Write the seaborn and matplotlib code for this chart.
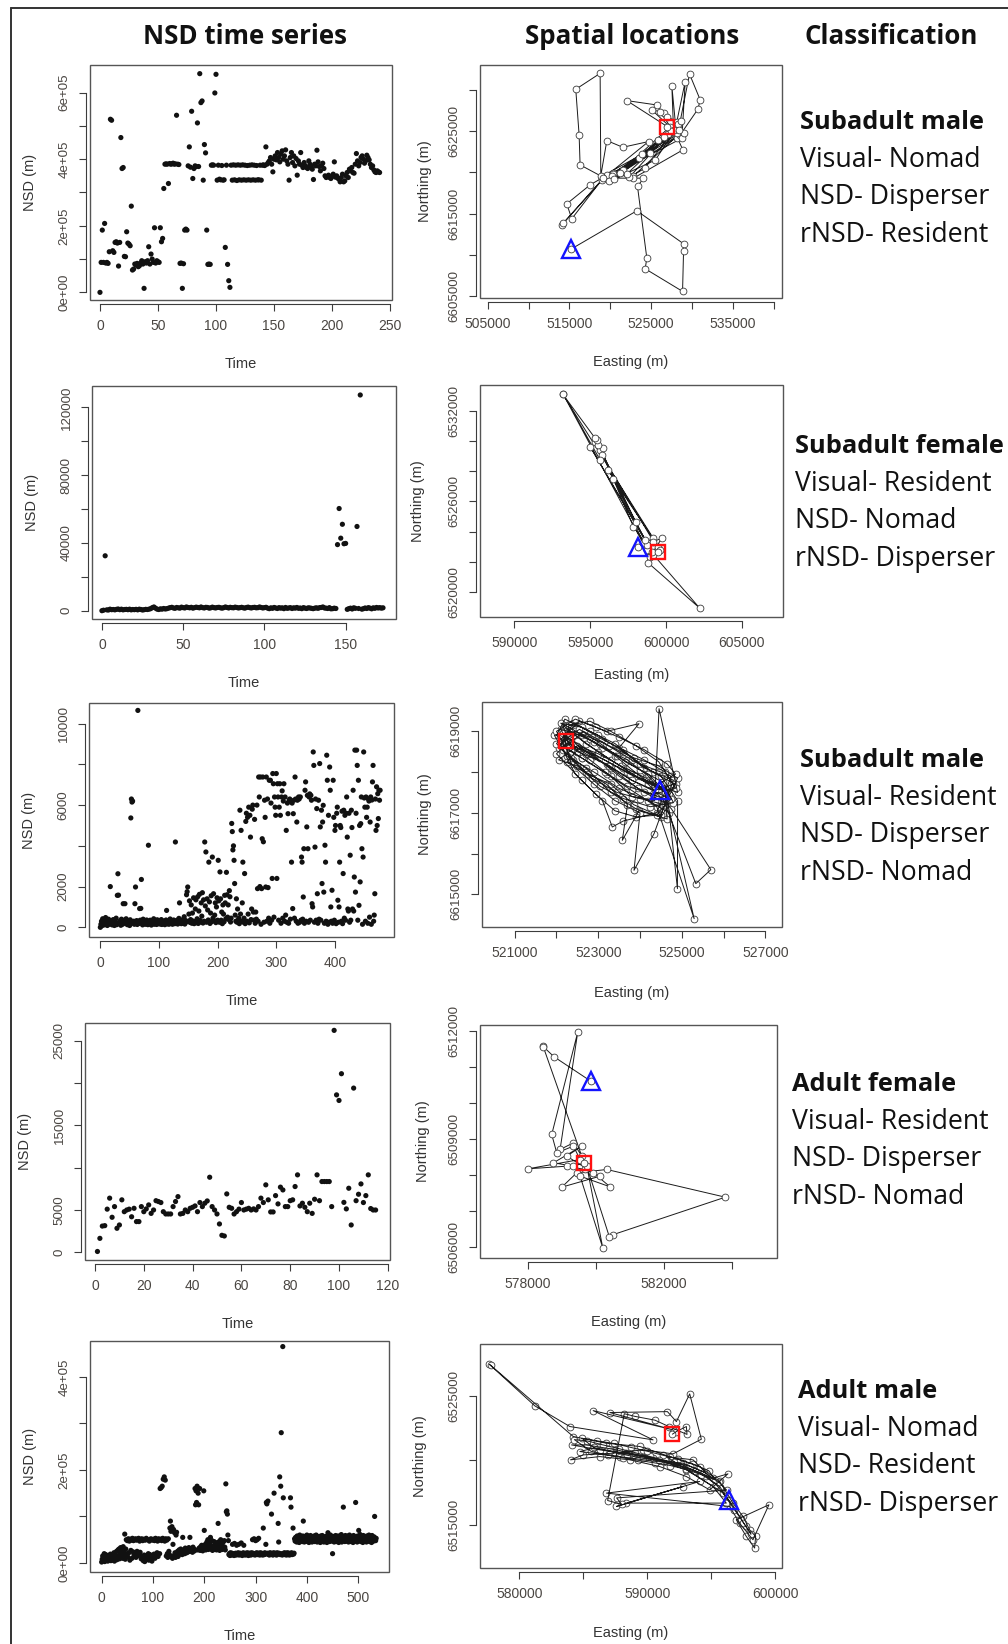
import numpy as np
import pandas as pd
import matplotlib
matplotlib.use("Agg")
import matplotlib.pyplot as plt
import seaborn as sns
from matplotlib.patches import Rectangle
from matplotlib.lines import Line2D

# ---------------------------------------------------------------- data
# NSD time series (one value per time step)
nsd_sub_male1_k = [
    0, 90, 187, 90, 207, 88, 90, 87, 122, 520,
    517, 125, 120, 150, 152, 148, 79, 150, 465, 372,
    375, 108, 107, 182, 148, 145, 140, 259, 67, 70,
    85, 82, 87, 77, 80, 88, 95, 85, 12, 92,
    88, 95, 137, 85, 115, 100, 90, 194, 88, 95,
    92, 90, 194, 152, 162, 312, 385, 386, 385, 327,
    387, 385, 386, 388, 385, 386, 532, 385, 384, 87,
    88, 12, 86, 187, 190, 187, 380, 437, 376, 544,
    342, 372, 380, 378, 509, 378, 657, 570, 575, 337,
    444, 419, 187, 84, 85, 84, 382, 383, 382, 599,
    655, 337, 382, 340, 338, 381, 337, 338, 135, 382,
    84, 35, 15, 382, 337, 383, 338, 382, 336, 383,
    338, 382, 337, 383, 338, 382, 337, 381, 338, 382,
    337, 383, 338, 382, 337, 381, 338, 338, 382, 337,
    382, 383, 381, 437, 385, 390, 395, 405, 385, 362,
    400, 410, 398, 420, 405, 392, 415, 425, 400, 410,
    428, 395, 385, 337, 405, 420, 390, 410, 380, 402,
    352, 395, 385, 420, 382, 375, 390, 380, 375, 372,
    395, 385, 378, 370, 339, 385, 380, 427, 392, 378,
    365, 380, 388, 372, 350, 345, 348, 352, 345, 342,
    348, 355, 392, 346, 350, 343, 340, 332, 345, 355,
    332, 335, 350, 360, 345, 370, 365, 375, 360, 358,
    385, 417, 395, 380, 390, 405, 410, 400, 388, 395,
    412, 405, 398, 385, 375, 380, 368, 362, 360, 365,
    362, 360]

nsd_sub_female = [
    0, 300, 32400, 500, 400, 900, 600, 700, 500, 800,
    1000, 600, 900, 500, 700, 800, 600, 900, 500, 700,
    600, 800, 500, 900, 700, 400, 600, 800, 700, 900,
    1200, 1800, 2200, 1500, 900, 700, 1100, 900, 1300, 1000,
    1200, 1500, 1800, 2000, 1600, 1400, 1900, 1700, 1500, 2100,
    1800, 1600, 2200, 1900, 1700, 2000, 1500, 1800, 2100, 1900,
    1700, 2200, 1800, 1600, 2000, 1900, 1500, 1700, 2100, 1800,
    1600, 1900, 2000, 1700, 1500, 1800, 2200, 1900, 1600, 2000,
    1800, 1700, 2100, 1900, 1600, 1800, 2000, 1700, 1500, 1900,
    2100, 1800, 1600, 1900, 2000, 1700, 1800, 2200, 1900, 1600,
    1800, 2000, 1500, 1200, 1700, 1400, 1900, 1600, 1300, 1800,
    1500, 1700, 1200, 1900, 1400, 1600, 1800, 1300, 1700, 1500,
    1900, 1400, 1600, 1200, 1800, 1500, 1300, 1700, 1600, 1400,
    1200, 1500, 1700, 1400, 1800, 1900, 2200, 1600, 1500, 1300,
    1800, 1100, 1200, 1500, 1300, 39000, 60300, 42800, 51000, 39500,
    39700, 800, 1200, 1500, 1000, 1700, 1400, 49700, 1300, 127300,
    900, 1200, 1600, 1300, 1800, 1500, 1100, 1700, 1400, 1900,
    1600, 1800, 1500, 1700]

nsd_sub_male2 = [
    0, 150, 300, 80, 420, 200, 350, 120, 260, 480, 180, 310, 90, 230, 400, 150, 280, 2000, 200, 330,
    120, 260, 380, 170, 90, 300, 210, 450, 130, 1570, 2630, 1580, 250, 180, 320, 100, 400, 220, 150, 1160,
    280, 350, 1160, 190, 420, 240, 130, 310, 260, 180, 90, 370, 5370, 6300, 6150, 6200, 210, 300, 150, 1160,
    1980, 250, 330, 140, 10650, 280, 190, 920, 350, 930, 2350, 220, 120, 400, 260, 180, 310, 150, 240, 360,
    200, 130, 4030, 280, 170, 350, 230, 110, 300, 190, 260, 420, 150, 330, 210, 280, 140, 370, 250, 180,
    320, 200, 160, 290, 380, 140, 250, 310, 190, 220, 130, 280, 360, 830, 170, 240, 300, 150, 260, 410,
    190, 330, 220, 150, 280, 360, 240, 180, 4190, 300, 210, 350, 160, 270, 440, 1200, 230, 310, 180, 260,
    370, 200, 290, 520, 160, 340, 250, 1600, 1750, 1980, 300, 650, 1300, 240, 380, 1100, 200, 700, 310, 1450,
    180, 280, 900, 1350, 230, 420, 1500, 190, 800, 1620, 340, 260, 1200, 550, 1700, 210, 1350, 300, 4190, 1050,
    3700, 250, 1400, 850, 360, 3200, 1250, 190, 700, 1550, 280, 3450, 450, 1650, 320, 600, 1200, 230, 1000, 1450,
    350, 3290, 1300, 250, 2720, 1400, 350, 750, 180, 1100, 650, 270, 1570, 1200, 420, 2700, 1600, 500, 1100, 380,
    1800, 1500, 260, 450, 5100, 4700, 3800, 4000, 3290, 2150, 600, 300, 1400, 250, 900, 350, 450, 180, 5750, 650,
    4760, 300, 1200, 3200, 250, 450, 2640, 180, 5200, 5600, 300, 5400, 650, 5900, 220, 5500, 4430, 380, 900, 5800,
    6000, 750, 350, 5300, 200, 750, 400, 6000, 1900, 300, 7380, 6400, 2000, 7380, 150, 1900, 4350, 7380, 4200, 250,
    6240, 5400, 1980, 7380, 300, 6300, 1950, 450, 7220, 200, 7220, 6100, 350, 2400, 7550, 7050, 500, 6400, 5900, 5500,
    7550, 2400, 7050, 6400, 350, 5900, 7050, 5500, 200, 6400, 6700, 450, 6200, 7050, 300, 6400, 600, 4760, 250, 6100,
    5580, 200, 6240, 6300, 400, 6200, 3200, 6100, 920, 5580, 6240, 450, 7380, 6300, 300, 5170, 6240, 200, 6400, 6300,
    250, 6400, 350, 3450, 3200, 400, 1490, 3860, 200, 6730, 7140, 300, 4930, 6480, 3860, 250, 6400, 6550, 350, 6480,
    6240, 1160, 1000, 8610, 7950, 250, 3940, 6300, 350, 5830, 1650, 200, 6240, 400, 8040, 4930, 350, 5750, 2150, 5170,
    5990, 1730, 200, 4030, 3200, 300, 8450, 7220, 150, 5500, 250, 7870, 6730, 1000, 300, 1820, 200, 7220, 5400, 350,
    4760, 5000, 180, 5600, 5900, 1330, 250, 1000, 3200, 5000, 4900, 300, 5700, 180, 2640, 5750, 450, 5500, 350, 5600,
    6400, 4430, 900, 800, 5600, 250, 3540, 350, 5750, 4900, 900, 6730, 800, 2470, 8700, 1730, 5600, 8700, 7950, 350,
    7220, 1080, 5000, 2230, 5090, 6400, 3860, 150, 3450, 8610, 6350, 5900, 300, 6400, 5400, 5900, 200, 6300, 6200, 500,
    5170, 6400, 150, 6250, 7140, 7950, 300, 600, 1650, 6300, 4760, 6900, 5000, 6560, 5340, 6730, 6240, 6730]

nsd_adult_female = [
    100, 1650, 3100, 3150, 5100, 6400, 4140, 5400, 2840, 3230,
    6200, 4800, 5000, 5100, 4200, 5200, 3630, 3630, 5400, 4800,
    5130, 5600, 4600, 5000, 6100, 6000, 5880, 4800, 4530, 4530,
    4530, 5400, 6000, 6580, 4530, 4600, 5000, 4800, 5200, 5320,
    5480, 4800, 5880, 5400, 5800, 6070, 8870, 5400, 5000, 4530,
    3350, 2010, 1930, 6900, 5320, 5200, 4530, 4800, 5100, 5880,
    5000, 5100, 5200, 5000, 5130, 5000, 5400, 6400, 5880, 7970,
    6200, 4770, 4770, 6700, 5720, 7700, 7370, 5400, 5400, 6100,
    6200, 7770, 9150, 5480, 5800, 5320, 4800, 5800, 4600, 6270,
    9150, 6100, 8360, 8360, 8360, 8360, 5400, 26220, 18600, 17940,
    21100, 5900, 5130, 7570, 3230, 19400, 6100, 6860, 8080, 5880,
    6700, 9150, 5170, 5000, 5000]

nsd_adult_male_k = [
    2, 8, 15, 5, 12, 20, 3, 10, 18, 6, 14, 9, 4, 16, 11, 7, 13, 19, 5, 10,
    8, 15, 6, 12, 22, 4, 17, 9, 14, 25, 7, 11, 28, 16, 30, 9, 20, 33, 12, 26,
    18, 10, 35, 15, 24, 62, 8, 30, 50, 19, 48, 13, 52, 22, 47, 6, 51, 27, 49, 10,
    53, 24, 48, 18, 50, 21, 52, 12, 49, 25, 51, 16, 53, 20, 47, 23, 50, 9, 52, 14,
    48, 5, 51, 17, 3, 49, 12, 53, 8, 15, 50, 20, 6, 47, 18, 11, 52, 16, 4, 49,
    13, 51, 19, 48, 10, 53, 17, 50, 22, 47, 14, 52, 49, 20, 160, 51, 162, 48, 165, 53,
    180, 50, 185, 47, 178, 52, 15, 49, 20, 12, 52, 25, 18, 75, 90, 68, 14, 78, 10, 40,
    72, 16, 65, 22, 12, 60, 66, 18, 25, 14, 22, 28, 19, 24, 30, 21, 27, 18, 55, 26,
    23, 29, 20, 32, 25, 28, 22, 30, 27, 24, 33, 26, 55, 29, 25, 31, 28, 23, 34, 27,
    30, 26, 160, 125, 155, 130, 165, 28, 150, 125, 32, 160, 27, 35, 29, 38, 31, 26, 36, 155,
    70, 30, 40, 28, 35, 45, 32, 50, 29, 38, 33, 42, 55, 30, 36, 48, 27, 34, 31, 46,
    29, 37, 44, 33, 28, 40, 35, 85, 31, 46, 27, 38, 50, 33, 42, 29, 36, 45, 31, 48,
    34, 28, 170, 110, 112, 105, 60, 48, 18, 20, 16, 22, 19, 17, 21, 40, 18, 20, 16, 42,
    19, 21, 17, 38, 20, 18, 22, 40, 17, 19, 21, 18, 43, 20, 16, 19, 22, 38, 18, 20,
    17, 21, 19, 18, 22, 20, 16, 19, 21, 18, 20, 17, 22, 19, 50, 21, 18, 52, 20, 17,
    48, 19, 22, 50, 18, 21, 53, 19, 17, 22, 20, 18, 21, 19, 17, 75, 20, 18, 22, 19,
    40, 130, 127, 21, 133, 18, 20, 17, 22, 19, 21, 105, 18, 20, 17, 22, 150, 19, 21, 18,
    20, 17, 22, 19, 85, 45, 21, 185, 18, 165, 280, 20, 17, 465, 140, 19, 22, 18, 20, 21,
    17, 19, 22, 18, 20, 21, 17, 19, 140, 120, 22, 18, 20, 75, 19, 21, 52, 47, 55, 50,
    45, 58, 52, 48, 56, 44, 60, 50, 47, 55, 53, 46, 58, 90, 51, 45, 57, 49, 54, 48,
    60, 46, 52, 57, 44, 55, 50, 59, 47, 53, 45, 56, 51, 48, 58, 46, 54, 49, 60, 52,
    45, 57, 50, 47, 55, 53, 44, 58, 51, 46, 59, 48, 54, 45, 56, 50, 47, 57, 52, 44,
    55, 65, 49, 58, 46, 53, 60, 47, 51, 56, 20, 48, 57, 45, 54, 50, 59, 46, 52, 55,
    47, 58, 44, 53, 50, 56, 48, 61, 45, 52, 57, 120, 49, 54, 46, 59, 51, 47, 55, 50,
    58, 45, 53, 60, 48, 52, 46, 57, 50, 55, 44, 59, 49, 53, 47, 130, 56, 51, 45, 58,
    52, 70, 48, 55, 61, 46, 53, 50, 57, 44, 59, 49, 54, 47, 56, 51, 45, 58, 52, 48,
    55, 60, 46, 53, 50, 57, 44, 59, 49, 54, 47, 56, 100, 51, 48, 53]

# Spatial tracks (Easting / Northing, metres); first fix = start, last fix = end
east_1 = [515200, 523240, 528950, 528950, 528830, 524260, 524460, 523320, 524050, 518950,
          517530, 514670, 515280, 518950, 514060, 514260, 519570, 522830, 528540, 518950,
          516300, 516180, 515770, 518750, 518830, 519570, 521520, 524670, 519160, 528130,
          528870, 522830, 520380, 527730, 527520, 528130, 529680, 530990, 530700, 528540,
          522010, 525690, 526500, 526910, 528130, 529150, 528750, 520380, 528130, 525070,
          526090, 527320, 521500, 523500, 525800, 528200, 524200, 522300, 527100, 520200,
          523900, 526600, 528300, 529000, 519800, 522000, 527800, 520500, 525500, 528600,
          521200, 524800, 527400, 528340, 526910]
north_1 = [6610720, 6615360, 6611370, 6610440, 6605600, 6608340, 6609630, 6618300, 6619310, 6619310,
           6618500, 6616200, 6614390, 6619100, 6613660, 6613870, 6619710, 6619590, 6624750, 6619510,
           6620920, 6624550, 6630070, 6632000, 6619590, 6623860, 6623050, 6623740, 6619310, 6624340,
           6622730, 6619310, 6619910, 6624950, 6630470, 6624140, 6631920, 6628780, 6627650, 6624550,
           6628700, 6628170, 6627170, 6626760, 6626160, 6630990, 6624140, 6619830, 6624750, 6627570,
           6627370, 6625550, 6620300, 6621800, 6623900, 6625600, 6620500, 6619400, 6624600, 6619600,
           6622200, 6624300, 6625900, 6624800, 6619000, 6619800, 6625200, 6619200, 6621500, 6626200,
           6619900, 6622400, 6625000, 6625150, 6625470]

east_2 = [598120, 598510, 599170, 598730, 595650, 595320, 595870, 595760, 599170, 599720,
          598950, 593190, 595650, 595540, 598730, 598840, 602210, 599170, 597850, 595430,
          596500, 599500, 593190, 595300, 598000, 599060, 595000, 598620, 596200, 599610,
          599440]
north_2 = [6522970, 6523230, 6523560, 6522790, 6529390, 6529940, 6529500, 6529060, 6523340, 6523560,
           6522350, 6533120, 6528730, 6529720, 6523120, 6521910, 6518945, 6522460, 6524330, 6530045,
           6527500, 6523010, 6533080, 6530200, 6524600, 6522680, 6529600, 6523450, 6528100, 6522790,
           6522680]

east_3 = [524480, 524200, 523700, 523100, 522600, 522100, 522300, 522900, 523500, 524100,
          524700, 524500, 523900, 523300, 522700, 522050, 522400, 523000, 523600, 524300,
          524850, 524600, 523800, 523200, 522500, 522000, 522200, 522800, 523400, 524000,
          524750, 524400, 523600, 523336, 523100, 522600, 522000, 522350, 523050, 523700,
          524300, 524900, 524456, 524350, 523800, 523300, 522800, 522300, 522150, 522700,
          523300, 523900, 524600, 524650, 523976, 523576, 523700, 523200, 522700, 522250,
          521950, 522450, 523150, 523800, 524500, 524900, 524896, 524700, 524200, 523500,
          522900, 522400, 522000, 522550, 523200, 523976, 523500, 524100, 524800, 524336,
          523856, 524000, 523400, 522900, 522350, 522150, 522700, 523300, 523950, 524550,
          525336, 525696, 524750, 524200, 523600, 523000, 522450, 522100, 522600, 523200,
          523800, 524400, 525296, 524600, 524000, 523400, 522800, 522300,
          522100, 522600, 523100, 523600, 524100, 524600, 524850, 524300, 523700, 523150,
          522600, 522100, 522300, 522900, 523450, 524000, 524550, 524800, 524250, 523600,
          523050, 522500, 522050, 522500, 523000, 523550, 524150, 524700, 524500, 523900,
          523400, 522950, 522450, 522150, 522650, 523250, 523850, 524450, 524900, 524600,
          524000, 523450, 522850, 522350, 522000, 522450, 522950, 523500, 524100, 524650,
          524850, 524350, 523750, 523150, 522550, 522250, 522750, 523300, 523850, 524400,
          524750, 524200, 523650, 523050, 522550, 522200, 522700, 523250, 523800, 524350,
          524800, 524450, 523900, 523300, 522800, 522300, 522216]
north_3 = [6617568, 6617900, 6618300, 6618600, 6618900, 6619050, 6618700, 6618400, 6617900, 6617500,
           6617200, 6616900, 6617100, 6617500, 6618100, 6618600, 6619200, 6618900, 6618500, 6618000,
           6617700, 6617400, 6617800, 6618200, 6618500, 6618900, 6619300, 6619000, 6618700, 6618200,
           6617900, 6617000, 6616800, 6616652, 6617300, 6617800, 6618450, 6618800, 6618350, 6618000,
           6617700, 6617500, 6619556, 6617300, 6617400, 6617900, 6618300, 6618700, 6619150, 6618700,
           6618300, 6617900, 6617600, 6616850, 6617050, 6616325, 6617200, 6617700, 6618000, 6618400,
           6618900, 6619000, 6618700, 6618300, 6617900, 6617300, 6615139, 6617000, 6617300, 6617600,
           6618000, 6618300, 6618700, 6619250, 6619000, 6619188, 6618600, 6618100, 6617800, 6616489,
           6615589, 6617000, 6617300, 6617700, 6618200, 6618950, 6618500, 6618100, 6617600, 6617350,
           6615262, 6615605, 6617100, 6617700, 6618100, 6618500, 6618900, 6618700, 6618350, 6617950,
           6617550, 6617150, 6614403, 6617500, 6617900, 6618400, 6618800, 6619100,
           6619200, 6619100, 6618800, 6618550, 6618300, 6618000, 6617600, 6617450, 6617650, 6618000,
           6618350, 6618650, 6619000, 6618750, 6618400, 6618050, 6617750, 6617250, 6617150, 6617350,
           6617650, 6618150, 6618300, 6618650, 6618450, 6618150, 6617850, 6617450, 6616950, 6616900,
           6617050, 6617450, 6617950, 6618550, 6619000, 6618650, 6618350, 6618150, 6617850, 6617200,
           6617350, 6617500, 6617850, 6618350, 6619000, 6619300, 6619100, 6618850, 6618550, 6618200,
           6617950, 6617650, 6617950, 6618300, 6618600, 6618250, 6617950, 6617700, 6617200, 6616950,
           6617350, 6617950, 6618250, 6618700, 6619050, 6618800, 6618450, 6618150, 6617800, 6617550,
           6617700, 6618250, 6618650, 6619000, 6619250, 6619150, 6618763]

east_4 = [579852, 578774, 578441, 578461, 579588, 579343, 578951, 579470, 578706, 578853,
          579343, 579539, 578000, 579147, 579686, 580127, 579000, 579441, 580323, 583802,
          580519, 580401, 579735, 580205, 579539, 580421, 579931, 579147, 579588, 578755,
          579343, 579666]
north_4 = [6510611, 6511287, 6511584, 6511556, 6508528, 6508898, 6508713, 6511973, 6509130, 6508621,
           6508806, 6508435, 6508176, 6508250, 6508158, 6507972, 6507667, 6508065, 6508158, 6507389,
           6506352, 6506278, 6508250, 6505981, 6507972, 6507676, 6508065, 6508528, 6508806, 6508343,
           6508250, 6508343]

east_5 = [596380, 595650, 594090, 592010, 589930, 587590, 585250, 584080, 586290, 588890,
          591230, 593570, 595130, 596300, 594870, 593050, 590970, 588630, 586290, 584000,
          584990, 587330, 589670, 592010, 594220, 593310, 592270, 591570, 587070, 592010,
          585770, 590450, 583950, 581220, 577660, 577760, 584210, 586810, 589410, 591750,
          594090, 595650, 596690, 597470, 597990, 598460, 598380, 597730, 596950, 599500,
          598250, 597210, 596430, 586810, 594090, 587590, 592790, 588370, 596170, 595130,
          593050, 590450, 588370, 585770, 584730, 587850, 590710, 592790, 594610, 593570,
          591490,
          595900, 596800, 597300, 597700, 598100, 597500, 596700, 595400, 594600, 593700,
          592600, 591400, 590200, 589000, 587800, 586500, 585300, 584300, 585600, 586900,
          588100, 589300, 590600, 591800, 593000, 594200, 595300, 594800, 593600, 592400,
          591200, 590000, 588700, 587400, 586100, 584900, 585800, 587100, 588400, 589700,
          590900, 592100, 593300, 594400, 595600, 596200, 587600, 588000, 586900, 588200,
          589000, 590600, 591700, 593100,
          593050, 592270, 591960]
north_5 = [6516902, 6517980, 6519010, 6519780, 6520290, 6520810, 6521190, 6521190, 6520810, 6520420,
           6519910, 6519270, 6518620, 6518960, 6517720, 6518750, 6519520, 6520040, 6520290, 6520040,
           6520420, 6520550, 6520810, 6520500, 6521630, 6525130, 6522990, 6523760, 6523690, 6522350,
           6523840, 6521580, 6522610, 6524200, 6527410, 6527340, 6521840, 6521320, 6521070, 6520290,
           6519520, 6518370, 6516700, 6515670, 6514640, 6514130, 6513230, 6514130, 6515410, 6516570,
           6513870, 6515150, 6516440, 6517470, 6518370, 6516440, 6517980, 6516700, 6516700, 6517980,
           6519270, 6520170, 6520550, 6520940, 6520680, 6520290, 6519910, 6519780, 6519010, 6520040,
           6520290,
           6517500, 6516200, 6515500, 6514900, 6514300, 6515200, 6516500, 6518100, 6518800, 6519200,
           6519700, 6520000, 6520300, 6520600, 6520900, 6521200, 6521500, 6521600, 6520700, 6520400,
           6520200, 6520000, 6519800, 6519600, 6519300, 6518900, 6518500, 6519200, 6519700, 6520100,
           6520400, 6520700, 6521000, 6521300, 6521500, 6521700, 6521000, 6520700, 6520400, 6520150,
           6520000, 6519850, 6519550, 6519100, 6518300, 6517700, 6517100, 6516600, 6516900, 6523600,
           6523400, 6523100, 6522600, 6522000,
           6522610, 6522220, 6522020]

headers = ["NSD time series", "Spatial locations", "Classification"]
classes = [
    ("Subadult male", "Visual- Nomad", "NSD- Disperser", "rNSD- Resident"),
    ("Subadult female", "Visual- Resident", "NSD- Nomad", "rNSD- Disperser"),
    ("Subadult male", "Visual- Resident", "NSD- Disperser", "rNSD- Nomad"),
    ("Adult female", "Visual- Resident", "NSD- Disperser", "rNSD- Nomad"),
    ("Adult male", "Visual- Nomad", "NSD- Resident", "rNSD- Disperser"),
]

# ---------------------------------------------------------------- style
sns.set_theme(style="white")
plt.rcParams['font.family'] = ['Liberation Sans', 'DejaVu Sans']

W, H = 1008, 1644
fig = plt.figure(figsize=(W / 100, H / 100), dpi=100)
fig.patch.set_facecolor("white")

LINE = "#3c3c3c"
BOX = "#555555"
TICK = "#4a4642"
LAB = "#333333"
PT = 0.72  # points per pixel


def make_axes(box):
    x0, y0, x1, y1 = box
    return fig.add_axes([x0 / W, 1 - y1 / H, (x1 - x0) / W, (y1 - y0) / H])


def r_axes(ax, box, xlim, ylim, xticks, xlabels, yticks, ylabels, xlab, ylab,
           xlab_off=64, ylab_off=60):
    x0, y0, x1, y1 = box
    ax.set_facecolor("white")
    ax.set_xlim(xlim)
    ax.set_ylim(ylim)
    for s in ("top", "right"):
        ax.spines[s].set_visible(False)
    for s in ("left", "bottom"):
        ax.spines[s].set_visible(True)
        ax.spines[s].set_position(("outward", 4 * PT))
        ax.spines[s].set_color(LINE)
        ax.spines[s].set_linewidth(0.8)
    ax.spines["bottom"].set_bounds(xticks[0], xticks[-1])
    ax.spines["left"].set_bounds(yticks[0], yticks[-1])
    ax.set_xticks(xticks)
    ax.set_xticklabels(xlabels, fontsize=10, color=TICK)
    ax.set_yticks(yticks)
    ax.set_yticklabels(ylabels, fontsize=9.6, color=TICK, rotation=90, va="center")
    ax.tick_params(axis="both", direction="out", length=7 * PT, width=0.8,
                   color=LINE, pad=6, left=True, bottom=True)
    ax.add_patch(Rectangle((0, 0), 1, 1, transform=ax.transAxes, fill=False,
                           ec=BOX, lw=1.0, clip_on=False, zorder=6))
    ax.set_xlabel(xlab, fontsize=10.5, color=LAB, va="center")
    ax.xaxis.set_label_coords(0.5, -xlab_off / (y1 - y0))
    ax.set_ylabel(ylab, fontsize=10.5, color=LAB, va="center", ha="center")
    ax.yaxis.set_label_coords(-ylab_off / (x1 - x0), 0.5)
    ax.grid(False)


def nsd_panel(box, values, t0, xlim, ylim, xticks, yticks, ylabels):
    ax = make_axes(box)
    df = pd.DataFrame({"Time": np.arange(len(values)) + t0, "NSD": values})
    sns.scatterplot(data=df, x="Time", y="NSD", ax=ax, s=14, color="#111111",
                    edgecolor="none", linewidth=0, legend=False, zorder=3)
    r_axes(ax, box, xlim, ylim, xticks, [str(v) for v in xticks], yticks, ylabels,
           "Time", "NSD (m)")
    return ax


def track_panel(box, east, north, xlim, ylim, xticks, xlabels, yticks, ylabels,
                xlab_off=64, ylab_off=58, path_on_top=True):
    ax = make_axes(box)
    df = pd.DataFrame({"Easting": east, "Northing": north})
    # fixes as open circles; in dense tracks the path is drawn over them
    sns.scatterplot(data=df, x="Easting", y="Northing", ax=ax, s=24, marker="o",
                    color="white", edgecolor="#3a3a3a", linewidth=0.6,
                    legend=False, zorder=4 if not path_on_top else 3)
    sns.lineplot(data=df, x="Easting", y="Northing", ax=ax, sort=False, estimator=None,
                 color="#1a1a1a", lw=0.7, zorder=4 if path_on_top else 3)
    ax.plot([df.Easting.iloc[0]], [df.Northing.iloc[0]], marker="^", ms=12.5,
            mfc="none", mec="#1414ff", mew=1.7, ls="none", zorder=5)
    ax.plot([df.Easting.iloc[-1]], [df.Northing.iloc[-1]], marker="s", ms=10,
            mfc="none", mec="#ff1010", mew=1.7, ls="none", zorder=5)
    r_axes(ax, box, xlim, ylim, xticks, xlabels, yticks, ylabels,
           "Easting (m)", "Northing (m)", xlab_off, ylab_off)
    return ax


def sparse(ticks, shown):
    return [str(t) if t in shown else "" for t in ticks]


# ---------------------------------------------------------------- NSD column
nsd_panel((90, 65, 392, 300), [v * 1000 for v in nsd_sub_male1_k], 0,
          (-8.6, 251.7), (-23000, 683000), list(range(0, 251, 50)),
          list(range(0, 600001, 100000)),
          ["0e+00", "", "2e+05", "", "4e+05", "", "6e+05"])
nsd_panel((92, 386, 396, 619), nsd_sub_female, 0,
          (-6.1, 181), (-4900, 132600), [0, 50, 100, 150],
          list(range(0, 120001, 20000)),
          sparse(list(range(0, 120001, 20000)), [0, 40000, 80000, 120000]))
nsd_panel((89, 703, 394, 937), nsd_sub_male2, 0,
          (-19.3, 500.7), (-475, 11014), [0, 100, 200, 300, 400],
          list(range(0, 10001, 2000)),
          sparse(list(range(0, 10001, 2000)), [0, 2000, 6000, 10000]))
nsd_panel((85, 1023, 390, 1260), nsd_adult_female, 1,
          (-4.1, 120.9), (-907, 27090), list(range(0, 121, 20)),
          list(range(0, 25001, 5000)),
          sparse(list(range(0, 25001, 5000)), [0, 5000, 15000, 25000]))
nsd_panel((90, 1341, 389, 1572), [v * 1000 for v in nsd_adult_male_k], 0,
          (-22.7, 560), (-19400, 477000), list(range(0, 501, 100)),
          list(range(0, 400001, 100000)),
          ["0e+00", "", "2e+05", "", "4e+05"])

# ---------------------------------------------------------------- track column
xt = list(range(505000, 540001, 5000))
yt = list(range(6605000, 6630001, 5000))
track_panel((480, 65, 782, 298), east_1, north_1, (504060, 540990), (6604800, 6633010),
            xt, sparse(xt, [505000, 515000, 525000, 535000]),
            yt, sparse(yt, [6605000, 6615000, 6625000]), 64, 55, path_on_top=False)

xt = [590000, 595000, 600000, 605000]
yt = list(range(6520000, 6532001, 2000))
track_panel((480, 385, 783, 617), east_2, north_2, (587730, 607710), (6518350, 6533690),
            xt, [str(v) for v in xt],
            yt, sparse(yt, [6520000, 6526000, 6532000]), 58, 62, path_on_top=False)

xt = list(range(521000, 527001, 1000))
yt = list(range(6615000, 6619001, 1000))
track_panel((482, 702, 782, 927), east_3, north_3, (520216, 527400), (6614198, 6619720),
            xt, sparse(xt, [521000, 523000, 525000, 527000]),
            yt, sparse(yt, [6615000, 6617000, 6619000]), 66, 57)

xt = [578000, 580000, 582000, 584000]
yt = list(range(6506000, 6512001, 1000))
track_panel((480, 1025, 777, 1258), east_4, north_4, (576600, 585320), (6505700, 6512170),
            xt, sparse(xt, [578000, 582000]),
            yt, sparse(yt, [6506000, 6509000, 6512000]), 64, 57, path_on_top=False)

xt = list(range(580000, 600001, 5000))
yt = [6515000, 6520000, 6525000]
track_panel((480, 1344, 782, 1568), east_5, north_5, (576930, 600520), (6511690, 6528980),
            xt, sparse(xt, [580000, 590000, 600000]),
            yt, sparse(yt, [6515000, 6525000]), 65, 60)

# ---------------------------------------------------------------- text column
TXT = ["Open Sans", "DejaVu Sans"]
for label, cx in zip(headers, [245, 632, 891]):
    fig.text(cx / W, 1 - 44 / H, label, ha="center", va="baseline",
             fontsize=18.6, fontweight="bold", family=TXT, color="#111111")

row_x = [800, 795, 800, 792, 798]
row_y = [129, 453, 767, 1091, 1398]
for (title, vis, nsd, rnsd), x, y in zip(classes, row_x, row_y):
    for i, line in enumerate((title, vis, nsd, rnsd)):
        fig.text(x / W, 1 - (y + i * 37.6) / H, line, ha="left", va="baseline",
                 fontsize=18.3 if i == 0 else 19.2,
                 fontweight="bold" if i == 0 else "normal",
                 family=TXT, color="#111111")

# outer frame
fig.add_artist(Line2D([11 / W, 11 / W], [0, 1 - 8 / H], transform=fig.transFigure,
                      color="#333333", lw=1.4))
fig.add_artist(Line2D([11 / W, 1], [1 - 8 / H, 1 - 8 / H], transform=fig.transFigure,
                      color="#333333", lw=1.4))

fig.savefig("out.png", dpi=100, facecolor="white")
